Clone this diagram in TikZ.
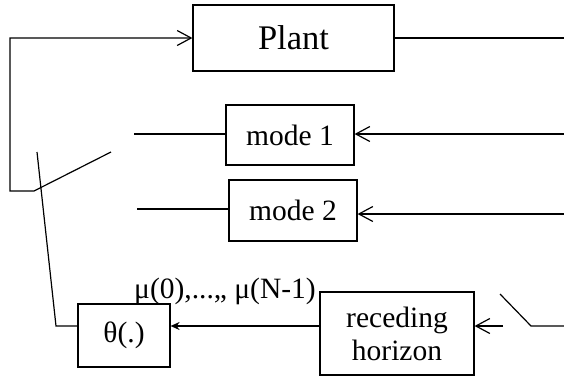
\documentclass[tikz,border=0pt]{standalone}
\usepackage{fontspec}
\setmainfont{Liberation Serif}
\usetikzlibrary{arrows.meta}
\tikzset{
  blk/.style={draw, line width=1.2pt, inner sep=0pt, font=\fontsize{29.5}{33}\selectfont, align=center},
  wire/.style={line width=1.2pt},
  barb/.style={-{Straight Barb[length=14pt,width=15pt,line width=1.2pt]}},
  sharp/.style={-{Stealth[length=9pt,width=8pt,inset=3pt]}}
}
\begin{document}
\begin{tikzpicture}[x=1pt,y=-1pt]
\useasboundingbox (0,0) rectangle (564,378);
% blocks
\node[blk, minimum width=201pt, minimum height=66pt, font=\fontsize{34.5}{38}\selectfont] (plant) at (293.5,38) {Plant};
\node[blk, minimum width=128pt, minimum height=60pt] (mode1) at (290,135) {mode 1};
\node[blk, minimum width=128pt, minimum height=61pt] (mode2) at (293,210.5) {mode 2};
\node[blk, minimum width=92pt, minimum height=63pt] (theta) at (124,335.5) {θ(.)};
\node[blk, minimum width=154pt, minimum height=83pt] (rh) at (397,333.5) {receding\\horizon};
\node[anchor=base west, inner sep=0pt, font=\fontsize{29.5}{33}\selectfont] (mu) at (134,298) {μ(0),...,, μ(N-1)};
% coordinates
\coordinate (plout) at (564,38);
\coordinate (swa) at (111,152);
\coordinate (swb) at (34,191);
\coordinate (lc) at (10,191);
\coordinate (tsa) at (37,152);
\coordinate (tsb) at (56,326);
\coordinate (m1l) at (134,134);
\coordinate (m1r) at (564,134);
\coordinate (m2l) at (137,209);
\coordinate (m2r) at (564,214);
\coordinate (y326) at (0,326);
\coordinate (rsa) at (500,294);
\coordinate (rsb) at (531,326);
\coordinate (rsc) at (564,326);
\coordinate (rsin) at (503,326);
% connectors
\draw[wire] (plant.east) -- (plout);
\draw[wire, barb] (swa) -- (swb) -- (lc) |- (plant.west);
\draw[wire] (tsa) -- (tsb) -- (tsb -| theta.west);
\draw[wire] (m1l) -- (m1l -| mode1.west);
\draw[wire, barb] (m1r) -- (m1r -| mode1.east);
\draw[wire] (m2l) -- (m2l -| mode2.west);
\draw[wire, barb] (m2r) -- (m2r -| mode2.east);
\draw[wire, sharp] (y326 -| rh.west) -- (y326 -| theta.east);
\draw[wire] (rsa) -- (rsb) -- (rsc);
\draw[wire, barb] (rsin) -- (rsin -| rh.east);
\end{tikzpicture}
\end{document}
